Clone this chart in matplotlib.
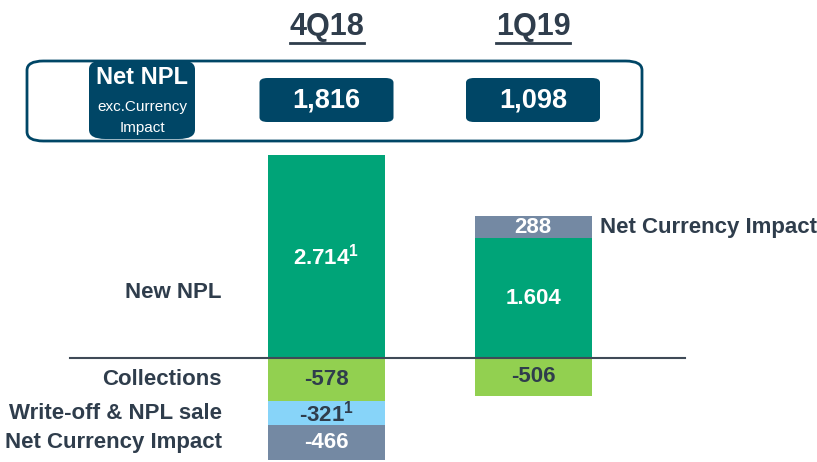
import numpy as np
import matplotlib
matplotlib.use('Agg')
from matplotlib import pyplot as plt
from matplotlib.patches import FancyBboxPatch

plt.rcParams['font.family'] = ['Liberation Sans', 'DejaVu Sans']
plt.rcParams['mathtext.fontset'] = 'custom'
plt.rcParams['mathtext.rm'] = 'Liberation Sans:bold'
plt.rcParams['mathtext.bf'] = 'Liberation Sans:bold'

# donnees
periods = ['4Q18', '1Q19']
net_npl = ['1,816', '1,098']
new_npl = [2714, 1604]
new_npl_txt = [r'2.714$^{\mathbf{1}}$', '1.604']
collections = [-578, -506]
writeoff = [-321, 0]
currency_pos = [0, 288]
currency_neg = [-466, 0]

c_green = '#00A478'
c_lgreen = '#92D050'
c_lblue = '#87D4F9'
c_grey = '#7489A3'
c_navy = '#004666'
c_text = '#2F3D4C'

W, H = 817, 462
fig = plt.figure(figsize=(W / 100, H / 100), dpi=100)

# axe des barres : zero a y=358px, 0.0748 px par unite
ax = fig.add_axes([0, 0, 1, 1])
ppu = 0.0748
zero_px = H - 358
ax.set_ylim(-zero_px / ppu, (H - zero_px) / ppu)
xpx = 206.5
ax.set_xlim(-326.5 / xpx, (W - 326.5) / xpx)
ax.axis('off')
bw = 117 / xpx
x = np.arange(len(periods))

ax.bar(x, new_npl, bw, color=c_green, zorder=2)
ax.bar(x, currency_pos, bw, bottom=new_npl, color=c_grey, zorder=2)
ax.bar(x, collections, bw, color=c_lgreen, zorder=2)
ax.bar(x, writeoff, bw, bottom=collections, color=c_lblue, zorder=2)
bot = np.array(collections) + np.array(writeoff)
ax.bar(x, currency_neg, bw, bottom=bot, color=c_grey, zorder=2)

ax.plot([-256.5 / xpx, (685 - 326.5) / xpx], [0, 0], color='#3F4A57', lw=1.5, zorder=3)

fs = 16
for i in x:
    ax.text(i, new_npl[i] / 2, new_npl_txt[i], color='white', ha='center', va='center',
            fontsize=fs, fontweight='bold', zorder=4)
    ax.text(i, collections[i] / 2, str(collections[i]), color=c_text, ha='center', va='center',
            fontsize=fs, fontweight='bold', zorder=4)
ax.text(1, new_npl[1] + currency_pos[1] / 2, str(currency_pos[1]), color='white', ha='center',
        va='center', fontsize=fs, fontweight='bold', zorder=4)
ax.text(0, collections[0] + writeoff[0] / 2, r'-321$^{\mathbf{1}}$', color=c_text, ha='center',
        va='center', fontsize=fs, fontweight='bold', zorder=4)
ax.text(0, bot[0] + currency_neg[0] / 2, str(currency_neg[0]), color='white', ha='center',
        va='center', fontsize=fs, fontweight='bold', zorder=4)

# libelles a gauche
lx = -105 / xpx
ax.text(lx, 880, 'New NPL', ha='right', va='center', fontsize=fs, fontweight='bold', color=c_text)
ax.text(lx, collections[0] / 2, 'Collections', ha='right', va='center', fontsize=fs,
        fontweight='bold', color=c_text)
ax.text(lx, collections[0] + writeoff[0] / 2, 'Write-off & NPL sale', ha='right', va='center',
        fontsize=fs, fontweight='bold', color=c_text)
ax.text(lx, bot[0] + currency_neg[0] / 2, 'Net Currency Impact', ha='right', va='center',
        fontsize=fs, fontweight='bold', color=c_text)
ax.text(1 + 67 / xpx, new_npl[1] + currency_pos[1] / 2, 'Net Currency Impact', ha='left',
        va='center', fontsize=fs, fontweight='bold', color=c_text)


# entete en pixels
def fx(px):
    return px / W


def fy(py):
    return 1 - py / H


fig.patches.append(FancyBboxPatch((fx(27), fy(141)), fx(615), 80 / H,
                                  boxstyle='round,pad=0,rounding_size=0.02',
                                  transform=fig.transFigure, fc='white', ec=c_navy, lw=2))
fig.patches.append(FancyBboxPatch((fx(89), fy(139)), fx(106), 79 / H,
                                  boxstyle='round,pad=0,rounding_size=0.02',
                                  transform=fig.transFigure, fc=c_navy, ec='none'))
fig.text(fx(142), fy(77), 'Net NPL', color='white', ha='center', va='center',
         fontsize=17, fontweight='bold')
fig.text(fx(142), fy(107), 'exc.Currency', color='white', ha='center', va='center', fontsize=11)
fig.text(fx(142), fy(128), 'Impact', color='white', ha='center', va='center', fontsize=11)

for i, (p, v) in enumerate(zip(periods, net_npl)):
    cx = 326.5 + i * xpx
    fig.text(fx(cx), fy(27), p, color=c_text, ha='center', va='center', fontsize=22,
             fontweight='bold')
    fig.add_artist(plt.Line2D([fx(cx - 37), fx(cx + 37)], [fy(43), fy(43)],
                              color=c_text, lw=2, transform=fig.transFigure))
    fig.patches.append(FancyBboxPatch((fx(cx - 67), fy(122)), fx(134), 44 / H,
                                      boxstyle='round,pad=0,rounding_size=0.01',
                                      transform=fig.transFigure, fc=c_navy, ec='none'))
    fig.text(fx(cx), fy(101), v, color='white', ha='center', va='center', fontsize=19.5,
             fontweight='bold')

fig.savefig('out.png', dpi=100)
